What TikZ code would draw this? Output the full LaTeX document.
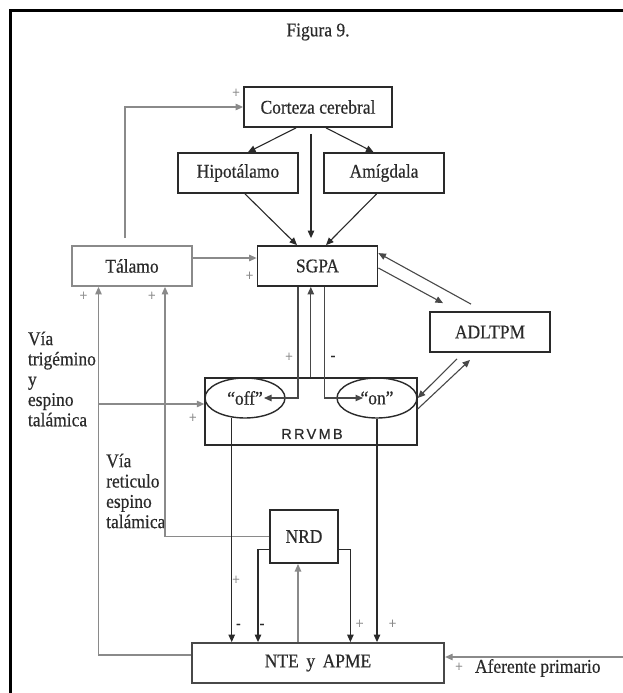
\documentclass[tikz,border=0pt]{standalone}
\usepackage{fontspec}
\setmainfont{Liberation Serif}[FakeStretch=0.9,FakeBold=0.4]
\newfontfamily\rrvfont[LetterSpace=16,FakeBold=0.6]{Liberation Sans}
\usetikzlibrary{arrows.meta,calc,shapes.geometric}
\definecolor{dkc}{HTML}{2A2A2A}
\definecolor{gry}{HTML}{8A8A8A}
\definecolor{lnc}{HTML}{484848}
\begin{document}
\begin{tikzpicture}[x=1pt,y=-1pt,
  txt/.style={font=\fontsize{19.4}{20.3}\selectfont, text=dkc},
  box/.style={draw=dkc, line width=1.8pt, minimum width=120pt, minimum height=40pt, inner sep=0pt, txt},
  graybox/.style={box, draw=gry},
  oval/.style={ellipse, draw=dkc, line width=1.4pt, minimum width=80pt, minimum height=40pt, inner sep=0pt, txt},
  arr/.style={draw=dkc, line width=1.1pt, -{Triangle[length=7.5pt,width=6.5pt]}},
  larr/.style={draw=lnc, line width=1.1pt, -{Triangle[length=7.5pt,width=6.5pt]}},
  garr/.style={draw=gry, line width=1.1pt, -{Triangle[length=7.5pt,width=6.5pt]}},
  pl/.style={font=\fontsize{15}{15}\selectfont, text=gry, inner sep=0pt},
  mn/.style={font=\fontsize{15}{15}\selectfont\bfseries, text=dkc, inner sep=0pt}
]
\useasboundingbox (0,0) rectangle (623,693);
\fill[white] (0,0) rectangle (623,693);
% frame
\draw[line width=3pt, black] (10.7,693) -- (10.7,10.7) -- (623,10.7);

\node[txt] (title) at (318,32) {Figura 9.};

% boxes
\node[box, minimum width=148pt] (cort) at (318,107) {Corteza cerebral};
\node[box] (hipo) at (238,173) {Hipotálamo};
\node[box] (amig) at (384,173) {Amígdala};
\node[graybox] (tal) at (132,266) {Tálamo};
\node[box] (sgpa) at (317.5,266) {SGPA};
\node[box] (adl) at (490,332) {ADLTPM};
\node[draw=dkc, line width=2pt, minimum width=212.4pt, minimum height=67pt, inner sep=0pt] (rrv) at (310.8,411.5) {};
\node[font=\rrvfont\fontsize{14.5}{15}\selectfont, text=dkc, inner sep=0pt] (rrvlab) at (312,434) {RRVMB};
\node[oval] (off) at (245,398) {“off”};
\node[oval] (on) at (377,398) {“on”};
\node[box, minimum width=68pt, minimum height=53pt, line width=2pt] (nrd) at (304,536.5) {NRD};
\node[box, draw=lnc, minimum width=252.5pt] (nte) at (318,663) {NTE\, y\, APME};

% side texts
\node[txt, anchor=west, align=left, inner sep=0pt] (viatri) at (27.8,379) {Vía\\trigémino\\y\\espino\\talámica};
\node[txt, anchor=west, align=left, inner sep=0pt] (viaret) at (106,491) {Vía\\reticulo\\espino\\talámica};
\node[txt, anchor=west, inner sep=0pt] (afer) at (474.8,668) {Aferente primario};

% Corteza connections
\draw[arr] ([xshift=-22pt]cort.south) -- ([xshift=10pt]hipo.north);
\draw[arr] ([xshift=8pt]cort.south) -- ([xshift=-10.5pt]amig.north);
\draw[arr] ([xshift=-7pt,yshift=-6pt]cort.south) -- ([xshift=-6.5pt,yshift=7pt]sgpa.north);
\draw[arr] ([xshift=7pt]hipo.south) -- ([xshift=-20.5pt]sgpa.north);
\draw[arr] ([xshift=-7.4pt]amig.south) -- ([xshift=8.5pt]sgpa.north);

% Talamo connections
\draw[garr] ([yshift=8pt]tal.east) -- ([yshift=8pt]sgpa.west);
\draw[garr] ([xshift=-7pt,yshift=7pt]tal.north) |- (cort.west);
\node[pl] (p1) at (236,93) {+};
\node[pl] (p2) at (249.5,276) {+};

% SGPA <-> ADLTPM
\draw[larr] ([xshift=-19pt,yshift=7pt]adl.north) -- ([yshift=-8pt]sgpa.north east);
\draw[larr] ([yshift=-2pt]sgpa.east) -- ([xshift=-47pt,yshift=8pt]adl.north);

% ADLTPM <-> on
\draw[larr] ([xshift=-33pt,yshift=-6pt]adl.south) -- (on.east);
\draw[larr] ([yshift=-11pt]on.east) -- ([xshift=-20pt,yshift=-7pt]adl.south);

% SGPA <-> off/on
\draw[larr] ([xshift=-19.5pt]sgpa.south) |- ([xshift=19pt]off.center);
\draw[larr] (rrv.north) -- (rrv.north |- sgpa.south);
\draw[larr] ([xshift=7pt]sgpa.south) |- ([xshift=-14pt]on.center);
\node[pl] (p3) at (289,357) {+};
\node[mn] (m1) at (333,358) {-};

% Via trigemino line
\coordinate (tl1) at ([xshift=-33.5pt]tal.south);
\coordinate (tl2) at ([xshift=33pt]tal.south);
\coordinate (offin) at ([yshift=-6pt]off.west);
\draw[garr] (tl1 |- offin) -- (offin);
\node[pl] (p4) at (192.7,418) {+};

% Talamo verticals
\draw[garr] ([yshift=8pt]nte.west) -| (tl1);
\draw[garr] (nrd.west) -| (tl2);
\node[pl] (p5) at (83.4,296) {+};
\node[pl] (p6) at (151.8,296) {+};

% off/on down to NTE
\coordinate (offout) at ([xshift=-13.3pt,yshift=1.1pt]off.south);
\draw[arr] (offout) -- (offout |- nte.north);
\draw[arr] (on.south) -- (on.south |- nte.north);
\node[pl] (p7) at (236,580) {+};
\node[mn] (m2) at (238.4,626) {-};
\node[pl] (p8) at (392.5,624) {+};

% NRD outputs
\draw[arr] ([yshift=-12.8pt]nrd.west) -| ([xshift=-60pt]nte.north);
\draw[arr] ([yshift=-12.8pt]nrd.east) -| ([xshift=32.4pt]nte.north);
\node[mn] (m3) at (262,626) {-};
\node[pl] (p9) at (359.6,624) {+};
\draw[garr] ([xshift=-20pt]nte.north) -- ([xshift=-6pt]nrd.south);

% Aferente primario
\coordinate (affin) at (623,657);
\draw[garr] (affin) -- (affin -| nte.east);
\node[pl] (p10) at (459,667) {+};
\end{tikzpicture}
\end{document}
